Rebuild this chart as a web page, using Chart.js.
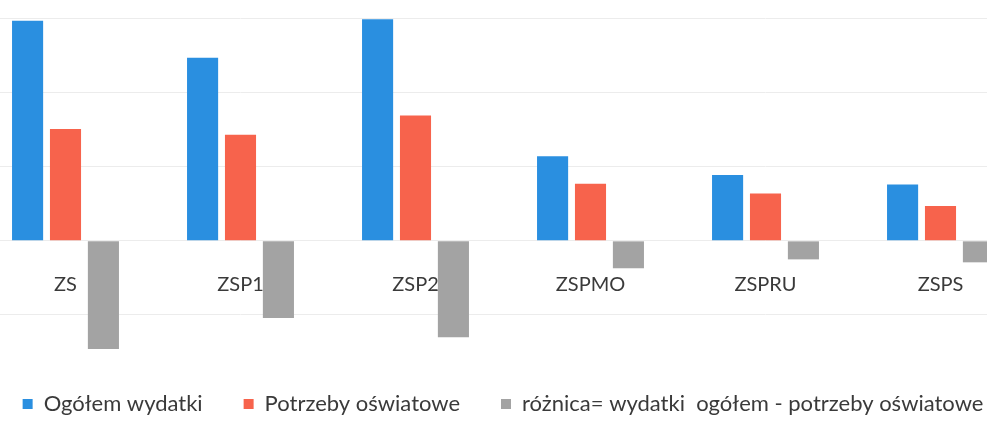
<!DOCTYPE html>
<html>
<head>
<meta charset="utf-8">
<script src="https://cdn.jsdelivr.net/npm/chart.js@4"></script>
<style>
  html, body { margin: 0; padding: 0; background: #fff; overflow: hidden; }
  #wrap { position: absolute; left: -22px; top: 0; width: 1050px; height: 425px; }
</style>
</head>
<body>
<div id="wrap"><canvas id="chart"></canvas></div>
<script>
const categories = ['ZS', 'ZSP1', 'ZSP2', 'ZSPMO', 'ZSPRU', 'ZSPS'];
const seriesNames = ['Ogółem wydatki', 'Potrzeby oświatowe', 'różnica= wydatki  ogółem - potrzeby oświatowe'];
const wydatki = [2.97, 2.47, 2.99, 1.14, 0.89, 0.76];
const potrzeby = [1.51, 1.43, 1.69, 0.77, 0.64, 0.47];
const roznica = [-1.46, -1.04, -1.30, -0.37, -0.25, -0.29];
const COLORS = ['#2a8fe0', '#f7634c', '#a3a3a3'];

Chart.defaults.font.family = "Lato, 'Open Sans', sans-serif";

const ctx = document.getElementById('chart').getContext('2d');
new Chart(ctx, {
    type: 'bar',
    data: {
        labels: categories,
        datasets: [
            { label: seriesNames[0], data: wydatki, backgroundColor: COLORS[0] },
            { label: seriesNames[1], data: potrzeby, backgroundColor: COLORS[1] },
            { label: seriesNames[2], data: roznica, backgroundColor: COLORS[2] }
        ]
    },
    options: {
        responsive: true, maintainAspectRatio: false, animation: false,
        datasets: { bar: { categoryPercentage: 0.65, barPercentage: 0.82 } },
        layout: { padding: 0 },
        scales: {
            x: {
                position: { y: 0 }, z: 1,
                grid: { display: false }, border: { display: false },
                ticks: { color: '#3a3a3a', font: { size: 20 }, padding: 24, maxRotation: 0 }
            },
            y: {
                min: -1.5, max: 3.25,
                grid: { color: '#ececec', drawTicks: false }, border: { display: false },
                ticks: { display: false, stepSize: 1, includeBounds: false }
            }
        },
        plugins: {
            legend: {
                position: 'bottom',
                labels: { color: '#3a3a3a', font: { size: 22 }, boxWidth: 10, boxHeight: 10, padding: 41 }
            },
            tooltip: { enabled: false }
        }
    }
});
</script>
</body>
</html>
